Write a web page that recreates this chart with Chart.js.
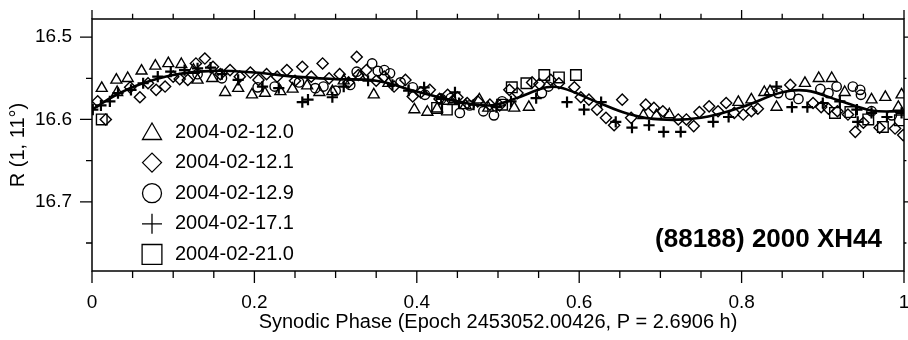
<!DOCTYPE html>
<html>
<head>
<meta charset="utf-8">
<script src="https://cdn.jsdelivr.net/npm/chart.js@4/dist/chart.umd.min.js"></script>
<style>
  body { margin: 0; background: #fff; }
  canvas { display: block; }
</style>
</head>
<body>
<canvas id="lightcurve" width="908" height="340"></canvas>
<script>
// phase / reduced magnitude readings, one array per night
const tri = [[0.012,16.562],[0.030,16.552],[0.031,16.567],[0.044,16.550],[0.061,16.541],[0.078,16.535],[0.094,16.532],[0.110,16.533],[0.125,16.540],[0.130,16.552],[0.148,16.550],[0.164,16.567],[0.180,16.562],[0.197,16.570],[0.213,16.568],[0.232,16.566],[0.247,16.563],[0.265,16.559],[0.280,16.567],[0.296,16.566],[0.310,16.553],[0.330,16.548],[0.347,16.570],[0.365,16.556],[0.397,16.588],[0.413,16.591],[0.425,16.587],[0.445,16.578],[0.460,16.583],[0.477,16.576],[0.488,16.586],[0.520,16.586],[0.538,16.585],[0.679,16.595],[0.695,16.595],[0.711,16.594],[0.796,16.579],[0.812,16.576],[0.828,16.567],[0.835,16.566],[0.843,16.585],[0.878,16.556],[0.895,16.550],[0.911,16.550],[0.927,16.567],[0.960,16.576],[0.977,16.573],[0.993,16.585],[0.997,16.570]];
const dia = [[0.007,16.578],[0.017,16.600],[0.047,16.561],[0.059,16.573],[0.069,16.556],[0.079,16.564],[0.090,16.560],[0.100,16.548],[0.108,16.551],[0.118,16.552],[0.128,16.532],[0.139,16.526],[0.149,16.536],[0.158,16.545],[0.170,16.540],[0.182,16.548],[0.195,16.543],[0.205,16.552],[0.215,16.545],[0.228,16.548],[0.240,16.540],[0.250,16.553],[0.259,16.536],[0.270,16.548],[0.284,16.532],[0.292,16.550],[0.305,16.545],[0.316,16.555],[0.326,16.524],[0.328,16.546],[0.338,16.540],[0.350,16.553],[0.360,16.548],[0.372,16.560],[0.386,16.552],[0.395,16.572],[0.405,16.567],[0.416,16.564],[0.428,16.575],[0.438,16.570],[0.450,16.573],[0.462,16.580],[0.475,16.578],[0.490,16.582],[0.502,16.583],[0.514,16.564],[0.524,16.568],[0.542,16.555],[0.551,16.557],[0.565,16.552],[0.575,16.556],[0.594,16.561],[0.602,16.573],[0.612,16.576],[0.622,16.588],[0.633,16.598],[0.643,16.607],[0.653,16.576],[0.664,16.598],[0.682,16.582],[0.692,16.586],[0.703,16.590],[0.722,16.600],[0.732,16.600],[0.741,16.608],[0.748,16.591],[0.760,16.584],[0.771,16.590],[0.781,16.580],[0.791,16.592],[0.802,16.594],[0.812,16.590],[0.820,16.587],[0.860,16.558],[0.888,16.580],[0.898,16.585],[0.907,16.587],[0.918,16.590],[0.931,16.594],[0.940,16.615],[0.950,16.604],[0.970,16.610],[0.989,16.611],[0.999,16.619]];
const cir = [[0.130,16.545],[0.160,16.550],[0.204,16.561],[0.225,16.560],[0.255,16.555],[0.275,16.562],[0.285,16.560],[0.300,16.565],[0.318,16.558],[0.326,16.542],[0.345,16.532],[0.352,16.541],[0.360,16.540],[0.367,16.544],[0.380,16.555],[0.395,16.561],[0.410,16.570],[0.430,16.575],[0.442,16.574],[0.453,16.592],[0.465,16.583],[0.482,16.590],[0.495,16.595],[0.505,16.578],[0.554,16.568],[0.562,16.560],[0.845,16.568],[0.860,16.570],[0.870,16.575],[0.897,16.563],[0.907,16.568],[0.917,16.560],[0.937,16.560],[0.946,16.564],[0.947,16.570],[0.960,16.590],[0.985,16.595]];
const crs = [[0.001,16.588],[0.011,16.583],[0.022,16.578],[0.032,16.568],[0.048,16.564],[0.063,16.556],[0.081,16.548],[0.097,16.542],[0.114,16.540],[0.130,16.538],[0.146,16.537],[0.160,16.545],[0.180,16.552],[0.210,16.560],[0.230,16.562],[0.259,16.579],[0.266,16.576],[0.296,16.573],[0.310,16.560],[0.340,16.553],[0.370,16.558],[0.390,16.565],[0.409,16.561],[0.430,16.575],[0.447,16.567],[0.452,16.580],[0.470,16.582],[0.498,16.585],[0.516,16.578],[0.547,16.574],[0.585,16.579],[0.606,16.588],[0.627,16.579],[0.645,16.603],[0.665,16.610],[0.686,16.607],[0.704,16.615],[0.725,16.615],[0.765,16.603],[0.784,16.597],[0.843,16.560],[0.862,16.585],[0.881,16.585],[0.900,16.580],[0.921,16.578],[0.942,16.588],[0.943,16.603],[0.960,16.592],[0.979,16.597],[0.997,16.592]];
const sqr = [[0.012,16.600],[0.425,16.586],[0.437,16.588],[0.505,16.582],[0.517,16.561],[0.535,16.556],[0.557,16.546],[0.575,16.549],[0.596,16.546],[0.915,16.592],[0.934,16.591],[0.956,16.600],[0.974,16.609],[0.995,16.601]];

// fourier fit
const fitPhase = [0.00,0.03,0.06,0.10,0.15,0.20,0.25,0.30,0.35,0.40,0.45,0.49,0.52,0.56,0.58,0.62,0.66,0.70,0.75,0.80,0.85,0.88,0.92,0.96,1.00];
const fitMag   = [16.588,16.570,16.557,16.546,16.541,16.543,16.548,16.551,16.553,16.566,16.578,16.583,16.575,16.561,16.562,16.578,16.593,16.600,16.598,16.585,16.567,16.565,16.577,16.589,16.590];

const nights = ['2004-02-12.0','2004-02-12.1','2004-02-12.9','2004-02-17.1','2004-02-21.0'];
const xMajor = [0, 0.2, 0.4, 0.6, 0.8, 1];
const xMinor = [0.05,0.1,0.15,0.25,0.3,0.35,0.45,0.5,0.55,0.65,0.7,0.75,0.85,0.9,0.95];
const yMajor = [16.5, 16.6, 16.7];
const yMinor = [16.55, 16.65, 16.75];

const FONT = "'Liberation Sans', Arial, Helvetica, sans-serif";
const styles = [
    {pointStyle: 'triangle', radius: 6.3, legendRadius: 11, borderWidth: 1.4},
    {pointStyle: 'rectRot', radius: 5.6, legendRadius: 9.5, borderWidth: 1.4},
    {pointStyle: 'circle', radius: 4.7, legendRadius: 9.5, borderWidth: 1.4},
    {pointStyle: 'cross', radius: 5.6, legendRadius: 10, borderWidth: 2.2},
    {pointStyle: 'rect', radius: 7.5, legendRadius: 14, borderWidth: 1.4}
];
const series = [tri, dia, cir, crs, sqr];

const toXY = arr => arr.map(p => ({x: p[0], y: p[1]}));

const datasets = series.map((s, i) => ({
    label: nights[i],
    data: toXY(s),
    pointStyle: styles[i].pointStyle,
    pointRadius: styles[i].radius,
    pointBorderWidth: styles[i].borderWidth,
    pointBorderColor: '#000',
    pointBackgroundColor: 'rgba(0,0,0,0)',
    showLine: false,
    order: 1
}));
datasets.push({
    label: 'fit',
    data: fitPhase.map((p, i) => ({x: p, y: fitMag[i]})),
    showLine: true,
    borderColor: '#000',
    borderWidth: 2.6,
    pointRadius: 0,
    tension: 0.4,
    order: 0
});

const frameAndTicks = {
    id: 'frameAndTicks',
    afterDraw(chart) {
        const ctx = chart.ctx;
        const a = chart.chartArea;
        const xs = chart.scales.x, ys = chart.scales.y;
        ctx.save();
        ctx.strokeStyle = '#000';
        ctx.lineWidth = 1.5;
        ctx.strokeRect(a.left, a.top, a.right - a.left, a.bottom - a.top);

        const tickX = (v, len) => {
            const px = xs.getPixelForValue(v);
            ctx.beginPath();
            ctx.moveTo(px, a.bottom); ctx.lineTo(px, a.bottom + len);
            ctx.moveTo(px, a.top); ctx.lineTo(px, a.top - len * 0.75);
            ctx.stroke();
        };
        const tickY = (v, len) => {
            const py = ys.getPixelForValue(v);
            ctx.beginPath();
            ctx.moveTo(a.left, py); ctx.lineTo(a.left - len, py);
            ctx.moveTo(a.right, py); ctx.lineTo(a.right + len * 0.4, py);
            ctx.stroke();
        };
        ctx.lineWidth = 1.3;
        xMajor.forEach(v => tickX(v, 12));
        xMinor.forEach(v => tickX(v, 7));
        yMajor.forEach(v => tickY(v, 12));
        yMinor.forEach(v => tickY(v, 6));

        // legend inside the plot
        ctx.font = '20px ' + FONT;
        ctx.textBaseline = 'middle';
        ctx.textAlign = 'left';
        nights.forEach((n, i) => {
            const y = 132 + i * 30.6;
            ctx.strokeStyle = '#000';
            ctx.fillStyle = 'rgba(0,0,0,0)';
            Chart.helpers.drawPoint(ctx, {
                pointStyle: styles[i].pointStyle,
                radius: styles[i].legendRadius,
                borderWidth: i === 3 ? 3.2 : 2,
                rotation: 0
            }, 152, i === 0 ? y + 2 : y);
            ctx.fillStyle = '#000';
            ctx.fillText(n, 175, y);
        });

        ctx.font = 'bold 26px ' + FONT;
        ctx.textAlign = 'right';
        ctx.fillText('(88188) 2000 XH44', 882, 240);
        ctx.restore();
    }
};

const noPad = s => { s.paddingLeft = 0; s.paddingRight = 0; s.paddingTop = 0; s.paddingBottom = 0; };

const chart = new Chart(document.getElementById('lightcurve').getContext('2d'), {
    type: 'scatter',
    data: {datasets: datasets},
    options: {
        responsive: false,
        animation: false,
        devicePixelRatio: 1,
        layout: {autoPadding: false, padding: {left: 0, top: 0, bottom: 0, right: 4}},
        plugins: {legend: {display: false}, tooltip: {enabled: false}},
        scales: {
            x: {
                type: 'linear', position: 'bottom', min: 0, max: 1,
                afterBuildTicks: s => { s.ticks = xMajor.map(v => ({value: v})); },
                afterFit: s => { s.height = 69; noPad(s); },
                grid: {display: false, drawTicks: false}, border: {display: false},
                ticks: {
                    padding: 20, color: '#000', font: {family: FONT, size: 19},
                    maxRotation: 0,
                    callback: v => (v === 0 || v === 1) ? String(v) : v.toFixed(1)
                },
                title: {
                    display: true, text: 'Synodic Phase (Epoch 2453052.00426, P = 2.6906 h)',
                    color: '#000', font: {family: FONT, size: 20}, padding: {top: 0, bottom: 6}
                }
            },
            xTop: {
                type: 'linear', position: 'top', min: 0, max: 1,
                afterFit: s => { s.height = 19; noPad(s); },
                grid: {display: false, drawTicks: false}, border: {display: false},
                ticks: {display: false}
            },
            y: {
                type: 'linear', position: 'left', min: 16.478, max: 16.784, reverse: true,
                afterBuildTicks: s => { s.ticks = yMajor.map(v => ({value: v})); },
                afterFit: s => { s.width = 92; noPad(s); },
                grid: {display: false, drawTicks: false}, border: {display: false},
                ticks: {
                    padding: 20, color: '#000', font: {family: FONT, size: 19},
                    callback: v => v.toFixed(1)
                },
                title: {
                    display: true, text: 'R (1, 11\u00B0)',
                    color: '#000', font: {family: FONT, size: 20}, padding: {top: 6, bottom: 0}
                }
            }
        }
    },
    plugins: [frameAndTicks]
});
</script>
</body>
</html>
